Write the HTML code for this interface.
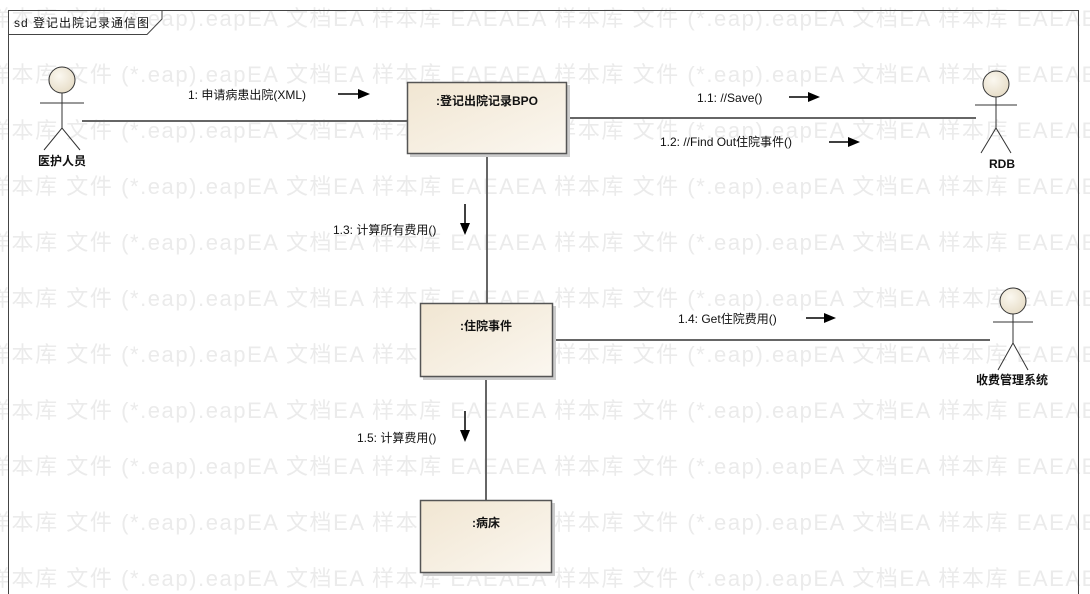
<!DOCTYPE html>
<html><head><meta charset="utf-8"><style>
html,body{margin:0;padding:0;background:#fff;}
svg{display:block;font-family:"Liberation Sans","Noto Sans CJK SC",sans-serif;}
</style></head><body>
<svg width="1090" height="594" viewBox="0 0 1090 594" xmlns="http://www.w3.org/2000/svg">
<defs>
<linearGradient id="g" x1="0" y1="0" x2="1" y2="1">
<stop offset="0" stop-color="#f1e6d2"/><stop offset="1" stop-color="#fbf7f0"/>
</linearGradient>
<radialGradient id="h" cx="0.4" cy="0.35" r="0.7">
<stop offset="0" stop-color="#fbf8f0"/><stop offset="1" stop-color="#e6dcc6"/>
</radialGradient>
</defs>
<g fill="#ebebeb" font-size="22">
<text x="-500" y="26" textLength="2256">文件 (*.eap).eapEA 文档EA 样本库  EAEAEA 样本库 文件 (*.eap).eapEA 文档EA 样本库  EAEAEA 样本库 文件 (*.eap).eapEA 文档EA 样本库  EAEAEA 样本库 文件 (*.eap).eapEA 文档EA 样本库  EAEAEA 样本库 </text>
<text x="-500" y="82" textLength="2256">文件 (*.eap).eapEA 文档EA 样本库  EAEAEA 样本库 文件 (*.eap).eapEA 文档EA 样本库  EAEAEA 样本库 文件 (*.eap).eapEA 文档EA 样本库  EAEAEA 样本库 文件 (*.eap).eapEA 文档EA 样本库  EAEAEA 样本库 </text>
<text x="-500" y="138" textLength="2256">文件 (*.eap).eapEA 文档EA 样本库  EAEAEA 样本库 文件 (*.eap).eapEA 文档EA 样本库  EAEAEA 样本库 文件 (*.eap).eapEA 文档EA 样本库  EAEAEA 样本库 文件 (*.eap).eapEA 文档EA 样本库  EAEAEA 样本库 </text>
<text x="-500" y="194" textLength="2256">文件 (*.eap).eapEA 文档EA 样本库  EAEAEA 样本库 文件 (*.eap).eapEA 文档EA 样本库  EAEAEA 样本库 文件 (*.eap).eapEA 文档EA 样本库  EAEAEA 样本库 文件 (*.eap).eapEA 文档EA 样本库  EAEAEA 样本库 </text>
<text x="-500" y="250" textLength="2256">文件 (*.eap).eapEA 文档EA 样本库  EAEAEA 样本库 文件 (*.eap).eapEA 文档EA 样本库  EAEAEA 样本库 文件 (*.eap).eapEA 文档EA 样本库  EAEAEA 样本库 文件 (*.eap).eapEA 文档EA 样本库  EAEAEA 样本库 </text>
<text x="-500" y="306" textLength="2256">文件 (*.eap).eapEA 文档EA 样本库  EAEAEA 样本库 文件 (*.eap).eapEA 文档EA 样本库  EAEAEA 样本库 文件 (*.eap).eapEA 文档EA 样本库  EAEAEA 样本库 文件 (*.eap).eapEA 文档EA 样本库  EAEAEA 样本库 </text>
<text x="-500" y="362" textLength="2256">文件 (*.eap).eapEA 文档EA 样本库  EAEAEA 样本库 文件 (*.eap).eapEA 文档EA 样本库  EAEAEA 样本库 文件 (*.eap).eapEA 文档EA 样本库  EAEAEA 样本库 文件 (*.eap).eapEA 文档EA 样本库  EAEAEA 样本库 </text>
<text x="-500" y="418" textLength="2256">文件 (*.eap).eapEA 文档EA 样本库  EAEAEA 样本库 文件 (*.eap).eapEA 文档EA 样本库  EAEAEA 样本库 文件 (*.eap).eapEA 文档EA 样本库  EAEAEA 样本库 文件 (*.eap).eapEA 文档EA 样本库  EAEAEA 样本库 </text>
<text x="-500" y="474" textLength="2256">文件 (*.eap).eapEA 文档EA 样本库  EAEAEA 样本库 文件 (*.eap).eapEA 文档EA 样本库  EAEAEA 样本库 文件 (*.eap).eapEA 文档EA 样本库  EAEAEA 样本库 文件 (*.eap).eapEA 文档EA 样本库  EAEAEA 样本库 </text>
<text x="-500" y="530" textLength="2256">文件 (*.eap).eapEA 文档EA 样本库  EAEAEA 样本库 文件 (*.eap).eapEA 文档EA 样本库  EAEAEA 样本库 文件 (*.eap).eapEA 文档EA 样本库  EAEAEA 样本库 文件 (*.eap).eapEA 文档EA 样本库  EAEAEA 样本库 </text>
<text x="-500" y="586" textLength="2256">文件 (*.eap).eapEA 文档EA 样本库  EAEAEA 样本库 文件 (*.eap).eapEA 文档EA 样本库  EAEAEA 样本库 文件 (*.eap).eapEA 文档EA 样本库  EAEAEA 样本库 文件 (*.eap).eapEA 文档EA 样本库  EAEAEA 样本库 </text>
</g>
<path d="M8.5 600 V10.5 H1078.5 V600" fill="none" stroke="#444" stroke-width="1"/>
<path d="M8.5 34.5 H147 L162 19 V10.5" fill="none" stroke="#444" stroke-width="1"/>
<text x="14" y="27" font-size="12" fill="#111" letter-spacing="1">sd 登记出院记录通信图</text>
<g stroke="#666" stroke-width="2" fill="none">
<line x1="82" y1="121" x2="407" y2="121"/>
<line x1="567" y1="118" x2="976" y2="118"/>
<line x1="487" y1="154" x2="487" y2="303"/>
<line x1="553" y1="340" x2="990" y2="340"/>
<line x1="486" y1="377" x2="486" y2="500"/>
</g>
<g stroke="#555" stroke-width="1.5">
<rect x="410" y="85" width="160" height="72" fill="#ccc" stroke="none"/>
<rect x="407.5" y="82.5" width="159" height="71" fill="url(#g)"/>
<rect x="423" y="306" width="133" height="74" fill="#ccc" stroke="none"/>
<rect x="420.5" y="303.5" width="132" height="73" fill="url(#g)"/>
<rect x="423" y="503" width="132" height="73" fill="#ccc" stroke="none"/>
<rect x="420.5" y="500.5" width="131" height="72" fill="url(#g)"/>
</g>
<g font-size="12" font-weight="bold" fill="#111" text-anchor="middle">
<text x="487" y="105">:登记出院记录BPO</text>
<text x="486" y="330">:住院事件</text>
<text x="486" y="527">:病床</text>
</g>
<g stroke="#333" stroke-width="1" fill="none">
<circle cx="62" cy="80" r="13" fill="url(#h)"/>
<line x1="62" y1="93" x2="62" y2="128"/><line x1="40" y1="103" x2="84" y2="103"/>
<path d="M44 150 L62 128 L80 150"/>
<circle cx="996" cy="84" r="13" fill="url(#h)"/>
<line x1="996" y1="97" x2="996" y2="128"/><line x1="975" y1="105" x2="1017" y2="105"/>
<path d="M981 153 L996 128 L1011 153"/>
<circle cx="1013" cy="301" r="13" fill="url(#h)"/>
<line x1="1013" y1="314" x2="1013" y2="343"/><line x1="993" y1="322" x2="1033" y2="322"/>
<path d="M998 370 L1013 343 L1028 370"/>
</g>
<g font-size="12" font-weight="bold" fill="#111" text-anchor="middle">
<text x="62" y="165">医护人员</text>
<text x="1002" y="168">RDB</text>
<text x="1012" y="384">收费管理系统</text>
</g>
<g font-size="12" fill="#111">
<text x="188" y="99">1: 申请病患出院(XML)</text>
<text x="697" y="102">1.1: //Save()</text>
<text x="660" y="146">1.2: //Find Out住院事件()</text>
<text x="333" y="234">1.3: 计算所有费用()</text>
<text x="678" y="323">1.4: Get住院费用()</text>
<text x="357" y="442">1.5: 计算费用()</text>
</g>
<g stroke="#000" stroke-width="1.5" fill="#000">
<line x1="338" y1="94" x2="360" y2="94"/><path d="M358 89 L370 94 L358 99Z" stroke="none"/>
<line x1="789" y1="97" x2="810" y2="97"/><path d="M808 92 L820 97 L808 102Z" stroke="none"/>
<line x1="829" y1="142" x2="850" y2="142"/><path d="M848 137 L860 142 L848 147Z" stroke="none"/>
<line x1="806" y1="318" x2="826" y2="318"/><path d="M824 313 L836 318 L824 323Z" stroke="none"/>
<line x1="465" y1="204" x2="465" y2="225"/><path d="M460 223 L465 235 L470 223Z" stroke="none"/>
<line x1="465" y1="411" x2="465" y2="432"/><path d="M460 430 L465 442 L470 430Z" stroke="none"/>
</g>
</svg>
</body></html>
